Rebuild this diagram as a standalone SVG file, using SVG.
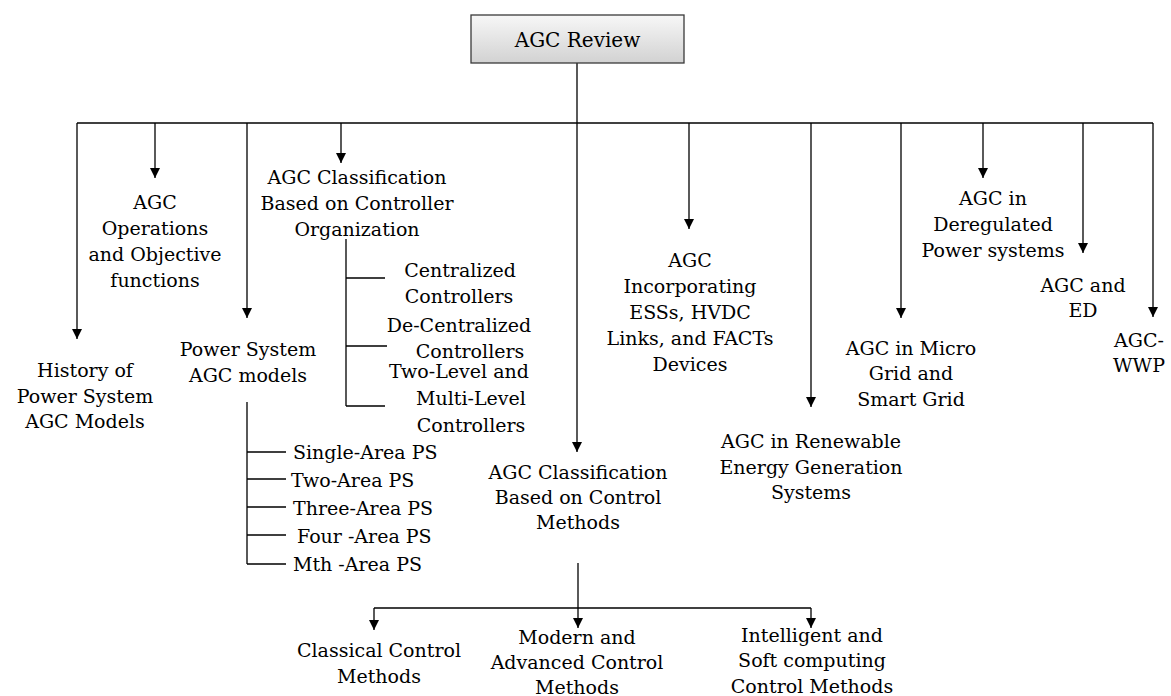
<svg xmlns="http://www.w3.org/2000/svg" width="1171" height="696" viewBox="0 0 1171 696">
  <style>
    .t { font-family: "DejaVu Serif", "Liberation Serif", serif; font-size: 19px; fill: #000; }
    .c { text-anchor: middle; }
    .ln { fill: none; stroke: #000; stroke-width: 1.3; }
    .ar { fill: none; stroke: #000; stroke-width: 1.3; marker-end: url(#arrow); }
  </style>
  <defs>
    <linearGradient id="boxgrad" x1="0" y1="0" x2="0" y2="1">
      <stop offset="0" stop-color="#f7f7f7"/>
      <stop offset="1" stop-color="#d2d2d2"/>
    </linearGradient>
    <marker id="arrow" markerUnits="userSpaceOnUse" markerWidth="11" markerHeight="11" refX="10" refY="5" orient="auto">
      <path d="M0,0 L10,5 L0,10 Z" fill="#000"/>
    </marker>
  </defs>
  <rect width="1171" height="696" fill="#fff"/>

  <g id="connectors">
    <path class="ar" d="M577,63 V452"/>
    <path class="ln" d="M77,123 H1153"/>
    <path class="ar" d="M77,123 V339"/>
    <path class="ar" d="M155,123 V178"/>
    <path class="ar" d="M247,123 V318"/>
    <path class="ar" d="M341,123 V163"/>
    <path class="ar" d="M689,123 V229"/>
    <path class="ar" d="M811,123 V407"/>
    <path class="ar" d="M901,123 V318"/>
    <path class="ar" d="M983,123 V178"/>
    <path class="ar" d="M1083,123 V253"/>
    <path class="ar" d="M1153,123 V317"/>
    <!-- controller organization tree -->
    <path class="ln" d="M346,239 V406 M346,278 H385 M346,346 H387 M346,406 H385"/>
    <!-- power system models tree -->
    <path class="ln" d="M247,402 V564 M247,452 H286 M247,479 H286 M247,507 H286 M247,535 H286 M247,564 H286"/>
    <!-- control methods -->
    <path class="ar" d="M578,563 V628"/>
    <path class="ln" d="M374,608 H811"/>
    <path class="ar" d="M374,608 V630"/>
    <path class="ar" d="M811,608 V628"/>
  </g>

  <g id="root">
    <rect x="471" y="15" width="213" height="48" fill="url(#boxgrad)" stroke="#3a3a3a" stroke-width="1.3"/>
    <text class="t c" x="577.5" y="47" style="font-size:20px">AGC Review</text>
  </g>

  <g id="history">
    <text class="t c" x="85" y="377">History of</text>
    <text class="t c" x="85" y="403">Power System</text>
    <text class="t c" x="85" y="428">AGC Models</text>
  </g>

  <g id="operations">
    <text class="t c" x="155" y="209">AGC</text>
    <text class="t c" x="155" y="235">Operations</text>
    <text class="t c" x="155" y="261">and Objective</text>
    <text class="t c" x="155" y="287">functions</text>
  </g>

  <g id="ps-models">
    <text class="t c" x="248" y="356">Power System</text>
    <text class="t c" x="248" y="382">AGC models</text>
  </g>

  <g id="single-area"><text class="t" x="293" y="459">Single-Area PS</text></g>
  <g id="two-area"><text class="t" x="291" y="487">Two-Area PS</text></g>
  <g id="three-area"><text class="t" x="293" y="515">Three-Area PS</text></g>
  <g id="four-area"><text class="t" x="297" y="543">Four -Area PS</text></g>
  <g id="mth-area"><text class="t" x="293" y="571">Mth -Area PS</text></g>

  <g id="ctrl-org">
    <text class="t c" x="357" y="184">AGC Classification</text>
    <text class="t c" x="357" y="210">Based on Controller</text>
    <text class="t c" x="357" y="236">Organization</text>
  </g>

  <g id="centralized">
    <text class="t c" x="460" y="277">Centralized</text>
    <text class="t c" x="459" y="303">Controllers</text>
  </g>
  <g id="decentralized">
    <text class="t c" x="459" y="332">De-Centralized</text>
    <text class="t c" x="470" y="358">Controllers</text>
  </g>
  <g id="two-level">
    <text class="t c" x="459" y="378">Two-Level and</text>
    <text class="t c" x="471" y="405">Multi-Level</text>
    <text class="t c" x="471" y="432">Controllers</text>
  </g>

  <g id="ctrl-methods">
    <text class="t c" x="578" y="479">AGC Classification</text>
    <text class="t c" x="578" y="504">Based on Control</text>
    <text class="t c" x="578" y="529">Methods</text>
  </g>

  <g id="classical">
    <text class="t c" x="379" y="657">Classical Control</text>
    <text class="t c" x="379" y="683">Methods</text>
  </g>
  <g id="modern">
    <text class="t c" x="577" y="644">Modern and</text>
    <text class="t c" x="577" y="669">Advanced Control</text>
    <text class="t c" x="577" y="694">Methods</text>
  </g>
  <g id="intelligent">
    <text class="t c" x="812" y="642">Intelligent and</text>
    <text class="t c" x="812" y="667">Soft computing</text>
    <text class="t c" x="812" y="693">Control Methods</text>
  </g>

  <g id="ess-hvdc-facts">
    <text class="t c" x="690" y="267">AGC</text>
    <text class="t c" x="690" y="293">Incorporating</text>
    <text class="t c" x="690" y="319">ESSs, HVDC</text>
    <text class="t c" x="690" y="345">Links, and FACTs</text>
    <text class="t c" x="690" y="371">Devices</text>
  </g>

  <g id="renewable">
    <text class="t c" x="811" y="448">AGC in Renewable</text>
    <text class="t c" x="811" y="474">Energy Generation</text>
    <text class="t c" x="811" y="499">Systems</text>
  </g>

  <g id="microgrid">
    <text class="t c" x="911" y="355">AGC in Micro</text>
    <text class="t c" x="911" y="380">Grid and</text>
    <text class="t c" x="911" y="406">Smart Grid</text>
  </g>

  <g id="deregulated">
    <text class="t c" x="993" y="205">AGC in</text>
    <text class="t c" x="993" y="231">Deregulated</text>
    <text class="t c" x="993" y="257">Power systems</text>
  </g>

  <g id="agc-ed">
    <text class="t c" x="1083" y="292">AGC and</text>
    <text class="t c" x="1083" y="317">ED</text>
  </g>

  <g id="agc-wwp">
    <text class="t c" x="1139" y="347">AGC-</text>
    <text class="t c" x="1139" y="372">WWP</text>
  </g>
</svg>
